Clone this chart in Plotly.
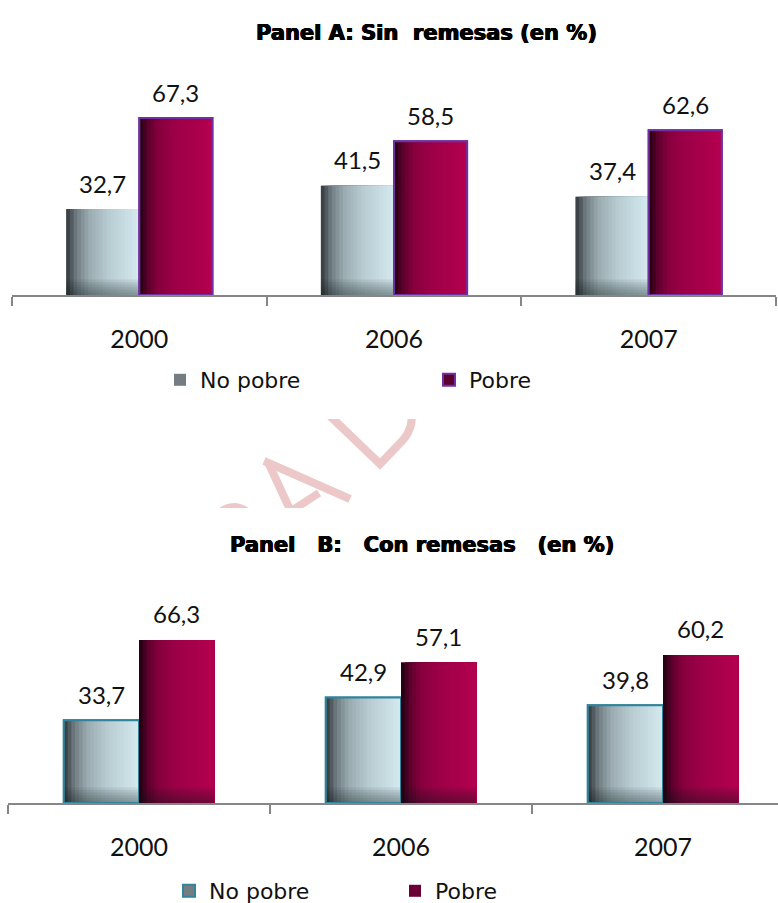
import plotly.graph_objects as go

# ---------------- data ----------------
years = ["2000", "2006", "2007"]
sin_no_pobre = [32.7, 41.5, 37.4]
sin_pobre = [67.3, 58.5, 62.6]
con_no_pobre = [33.7, 42.9, 39.8]
con_pobre = [66.3, 57.1, 60.2]
series_names = ["No pobre", "Pobre"]
panel_titles = ["Panel A: Sin\u00a0 remesas (en %)",
                "Panel\u00a0\u00a0 B:\u00a0\u00a0 Con remesas\u00a0\u00a0 (en %)"]

W, H = 778, 903
BW = 0.287          # width of one bar in category units
N = 20              # strips used to fake the horizontal gradient


def fmt(v):
    return f"{v:.1f}".replace(".", ",")


def hex2rgb(h):
    h = h.lstrip("#")
    return tuple(int(h[i:i + 2], 16) for i in (0, 2, 4))


def interp(stops, t):
    for (t0, c0), (t1, c1) in zip(stops[:-1], stops[1:]):
        if t0 <= t <= t1:
            a, b = hex2rgb(c0), hex2rgb(c1)
            f = (t - t0) / (t1 - t0) if t1 > t0 else 0
            r = [round(a[k] + (b[k] - a[k]) * f) for k in range(3)]
            return f"rgb({r[0]},{r[1]},{r[2]})"
    return stops[-1][1]


NP_STOPS = [(0, "#3c4246"), (0.12, "#6f7c81"), (0.3, "#9aabb0"),
            (0.6, "#b9cdd3"), (1, "#d3e7ee")]
P_STOPS = [(0, "#2b0014"), (0.1, "#5c002d"), (0.25, "#86003d"),
           (0.5, "#9d0047"), (1, "#b3004f")]

fig = go.Figure()


def add_series(xa, ya, legend, values, left, stops, name, border,
               shade, px_per_unit, legend_color):
    off0 = -BW if left else 0.0
    common = dict(x=years, xaxis=xa, yaxis=ya, hoverinfo="skip")
    # base trace (also provides the legend entry)
    fig.add_trace(go.Bar(
        y=values, offset=off0, width=BW, name=name, legend=legend,
        showlegend=True,
        marker=dict(color=legend_color,
                    line=dict(color=border if border else legend_color,
                              width=2 if border else 0)),
        **common))
    for i in range(N):
        t = i / (N - 1)
        fig.add_trace(go.Bar(
            y=values, offset=off0 + i * BW / N, width=BW - i * BW / N,
            showlegend=False, legend=legend,
            marker=dict(color=interp(stops, t), line=dict(width=0)),
            **common))
    if shade:
        for k in range(1, 7):
            h = 2.6 * k / px_per_unit
            fig.add_trace(go.Bar(
                y=[min(v, h) for v in values], offset=off0, width=BW,
                showlegend=False, legend=legend,
                marker=dict(color="rgba(20,22,30,0.075)", line=dict(width=0)),
                **common))
    if border:
        fig.add_trace(go.Bar(
            y=values, offset=off0, width=BW, showlegend=False, legend=legend,
            marker=dict(color="rgba(0,0,0,0)", line=dict(color=border, width=2)),
            **common))


SCALE_A = 2.63
SCALE_B = 2.4585

# Panel A
add_series("x", "y", "legend", sin_no_pobre, True, NP_STOPS, series_names[0],
           None, True, SCALE_A, "#737d82")
add_series("x", "y", "legend", sin_pobre, False, P_STOPS, series_names[1],
           "#7030a0", False, SCALE_A, "#5c002f")
# Panel B
add_series("x2", "y2", "legend2", con_no_pobre, True, NP_STOPS, series_names[0],
           "#31849b", True, SCALE_B, "#737d82")
add_series("x2", "y2", "legend2", con_pobre, False, P_STOPS, series_names[1],
           None, True, SCALE_B, "#6a0035")

annotations = []
label_font = dict(family="Lato", size=24, color="#111111")
for xa, ya, (a, b) in (("x", "y", (sin_no_pobre, sin_pobre)),
                       ("x2", "y2", (con_no_pobre, con_pobre))):
    for i, (v1, v2) in enumerate(zip(a, b)):
        annotations.append(dict(x=i - BW / 2, y=v1, xref=xa, yref=ya,
                                text=fmt(v1), showarrow=False, yshift=26,
                                yanchor="middle", font=label_font))
        annotations.append(dict(x=i + BW / 2, y=v2, xref=xa, yref=ya,
                                text=fmt(v2), showarrow=False, yshift=26,
                                yanchor="middle", font=label_font))

title_font = dict(family="DejaVu Sans", size=21, color="#000000",
                  weight="bold",
                  shadow="0.6px 0 0 #000, -0.6px 0 0 #000, 0 0.4px 0 #000")
annotations.append(dict(x=426 / W, y=1 - 33 / H, xref="paper", yref="paper",
                        text=panel_titles[0], showarrow=False,
                        xanchor="center", yanchor="middle", font=title_font))
annotations.append(dict(x=422 / W, y=1 - 545 / H, xref="paper", yref="paper",
                        text=panel_titles[1], showarrow=False,
                        xanchor="center", yanchor="middle", font=title_font))


# ---------------- watermark fragments (visible only between panels) --------
def P(x, y):
    return f"{x / W:.5f},{1 - y / H:.5f}"


WM = "#ecc8c8"
shapes = []
for path in (
    f"M{P(268, 462)} L{P(292, 514)}",
    f"M{P(264, 461)} L{P(350, 499)}",
    f"M{P(291, 511)} L{P(319, 493)}",
    f"M{P(328, 414)} L{P(380, 464)} L{P(403, 440)} Q{P(414, 427)} {P(411, 412)}",
    f"M{P(218, 514)} Q{P(232, 502)} {P(246, 511)}",
):
    shapes.append(dict(type="path", path=path, xref="paper", yref="paper",
                       line=dict(color=WM, width=8), layer="below"))
# masks: the chart areas are opaque
shapes.append(dict(type="rect", xref="paper", yref="paper", x0=0, x1=1,
                   y0=1 - 419 / H, y1=1, fillcolor="white", line_width=0,
                   layer="below"))
shapes.append(dict(type="rect", xref="paper", yref="paper", x0=0, x1=1,
                   y0=0, y1=1 - 508 / H, fillcolor="white", line_width=0,
                   layer="below"))

axis_common = dict(type="category", showline=True, linecolor="#868686",
                   linewidth=2, ticks="outside", tickson="boundaries",
                   ticklen=9, tickwidth=2, tickcolor="#868686",
                   showgrid=False, zeroline=False, fixedrange=True,
                   tickfont=dict(family="Lato", size=25, color="#111111"),
                   ticklabelstandoff=21)
yaxis_common = dict(range=[0, 80], visible=False, fixedrange=True)

legend_font = dict(family="DejaVu Sans", size=22, color="#111111")

fig.update_layout(
    width=W, height=H,
    margin=dict(l=0, r=0, t=0, b=0, pad=0, autoexpand=False),
    paper_bgcolor="white", plot_bgcolor="rgba(0,0,0,0)",
    barmode="overlay",
    xaxis=dict(domain=[12 / W, 776 / W], anchor="y", range=[-0.5, 2.5],
               **axis_common),
    yaxis=dict(domain=[1 - 295 / H, 1 - (295 - 80 * SCALE_A) / H],
               anchor="x", **yaxis_common),
    xaxis2=dict(domain=[8 / W, 1.0], anchor="y2",
                range=[-0.5, 2.5 - 16 / 262], **axis_common),
    yaxis2=dict(domain=[1 - 803 / H, 1 - (803 - 80 * SCALE_B) / H],
                anchor="x2", **yaxis_common),
    legend=dict(orientation="h", x=160 / W, y=1 - 380 / H, xanchor="left",
                yanchor="middle", entrywidth=224, entrywidthmode="pixels",
                font=legend_font, bgcolor="rgba(0,0,0,0)"),
    legend2=dict(orientation="h", x=169 / W, y=1 - 891 / H, xanchor="left",
                 yanchor="middle", entrywidth=181, entrywidthmode="pixels",
                 font=legend_font, bgcolor="rgba(0,0,0,0)"),
    annotations=annotations,
    shapes=shapes,
    showlegend=True,
)

fig.write_html(
    "out.html",
    config={"displayModeBar": False, "staticPlot": True},
    post_script=(
        "document.documentElement.style.margin='0';"
        "document.documentElement.style.overflow='hidden';"
        "document.body.style.margin='0';"
        "document.body.style.overflow='hidden';"
    ),
)
